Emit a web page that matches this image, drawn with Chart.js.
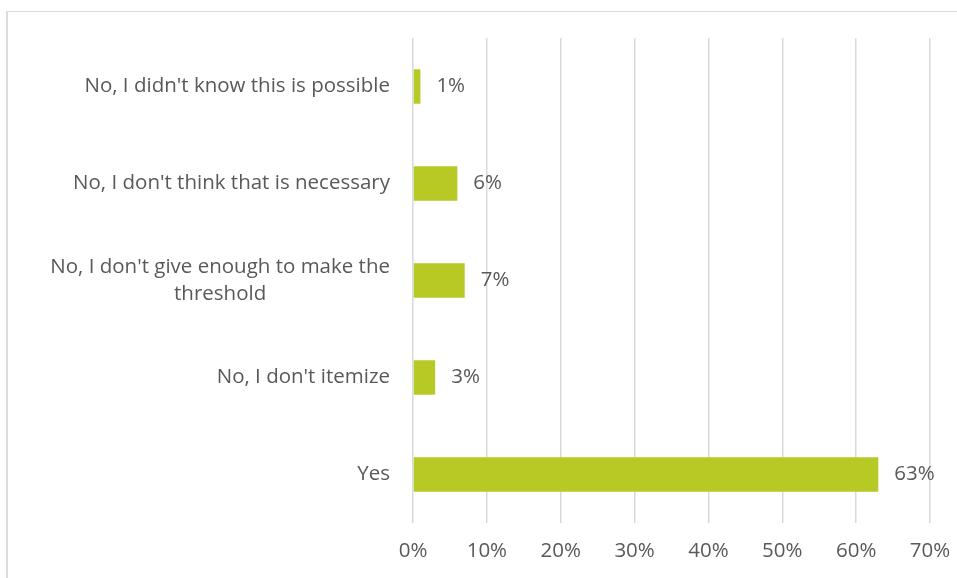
<!DOCTYPE html>
<html>
<head>
<meta charset="utf-8">
<script src="https://cdn.jsdelivr.net/npm/chart.js@4/dist/chart.umd.min.js"></script>
<style>
  html, body { margin: 0; padding: 0; background: #fff; overflow: hidden; }
  #frame { position: absolute; left: 6px; top: 11px; width: 1000px; height: 1000px;
           border-top: 1px solid #d9d9d9; border-left: 2px solid #dcdcdc; }
  #wrap { position: absolute; left: 0; top: 0; width: 957px; height: 578px; }
</style>
</head>
<body>
<div id="frame"></div>
<div id="wrap"><canvas id="c"></canvas></div>
<script>
// Survey answers (top to bottom) and their shares in percent
const categories = [
  ["No, I didn't know this is possible"],
  ["No, I don't think that is necessary"],
  ["No, I don't give enough to make the", "threshold"],
  ["No, I don't itemize"],
  ["Yes"]
];
const shares = [1, 6, 7, 3, 63];
const axisMax = 70;
const axisStep = 10;

const FONT = '"Open Sans", sans-serif';
const SIZE = 20.5;
const TEXT = '#595959';

// Category names, drawn left of the plot; wrapped lines centred on each other
const categoryLabels = {
  id: 'categoryLabels',
  afterDraw(chart) {
    const ctx = chart.ctx, y = chart.scales.y;
    const right = chart.chartArea.left - 23, lh = 27;
    ctx.save();
    ctx.font = SIZE + 'px ' + FONT;
    ctx.fillStyle = TEXT;
    ctx.textAlign = 'center';
    ctx.textBaseline = 'middle';
    categories.forEach((lines, i) => {
      const cy = y.getPixelForValue(i);
      const w = Math.max(...lines.map(l => ctx.measureText(l).width));
      const cx = right - w / 2;
      lines.forEach((l, k) => {
        ctx.fillText(l, cx, cy + (k - (lines.length - 1) / 2) * lh);
      });
    });
    ctx.restore();
  }
};

// Percent value at the end of each bar
const valueLabels = {
  id: 'valueLabels',
  afterDatasetsDraw(chart) {
    const ctx = chart.ctx;
    const meta = chart.getDatasetMeta(0);
    ctx.save();
    ctx.font = SIZE + 'px ' + FONT;
    ctx.fillStyle = TEXT;
    ctx.textAlign = 'left';
    ctx.textBaseline = 'middle';
    meta.data.forEach((bar, i) => {
      ctx.fillText(shares[i] + '%', bar.x + 16, bar.y);
    });
    ctx.restore();
  }
};

new Chart(document.getElementById('c'), {
  type: 'bar',
  data: {
    labels: categories,
    datasets: [{
      data: shares,
      backgroundColor: '#b6c924',
      borderWidth: 0,
      barPercentage: 0.355,
      categoryPercentage: 1
    }]
  },
  options: {
    indexAxis: 'y',
    responsive: true,
    maintainAspectRatio: false,
    animation: false,
    layout: { padding: { top: 38, right: 27, bottom: 0, left: 0 } },
    plugins: { legend: { display: false }, tooltip: { enabled: false } },
    scales: {
      x: {
        min: 0,
        max: axisMax,
        ticks: {
          stepSize: axisStep,
          callback: v => v + '%',
          color: TEXT,
          font: { family: FONT, size: SIZE },
          padding: 16,
          maxRotation: 0
        },
        grid: { color: '#d9d9d9', lineWidth: 1.5, drawTicks: false },
        border: { display: false },
        afterFit(scale) { scale.height = 55; scale.paddingRight = 0; }
      },
      y: {
        ticks: { display: false },
        grid: { display: false },
        border: { display: false },
        afterFit(scale) { scale.width = 413; }
      }
    }
  },
  plugins: [categoryLabels, valueLabels]
});
</script>
</body>
</html>
